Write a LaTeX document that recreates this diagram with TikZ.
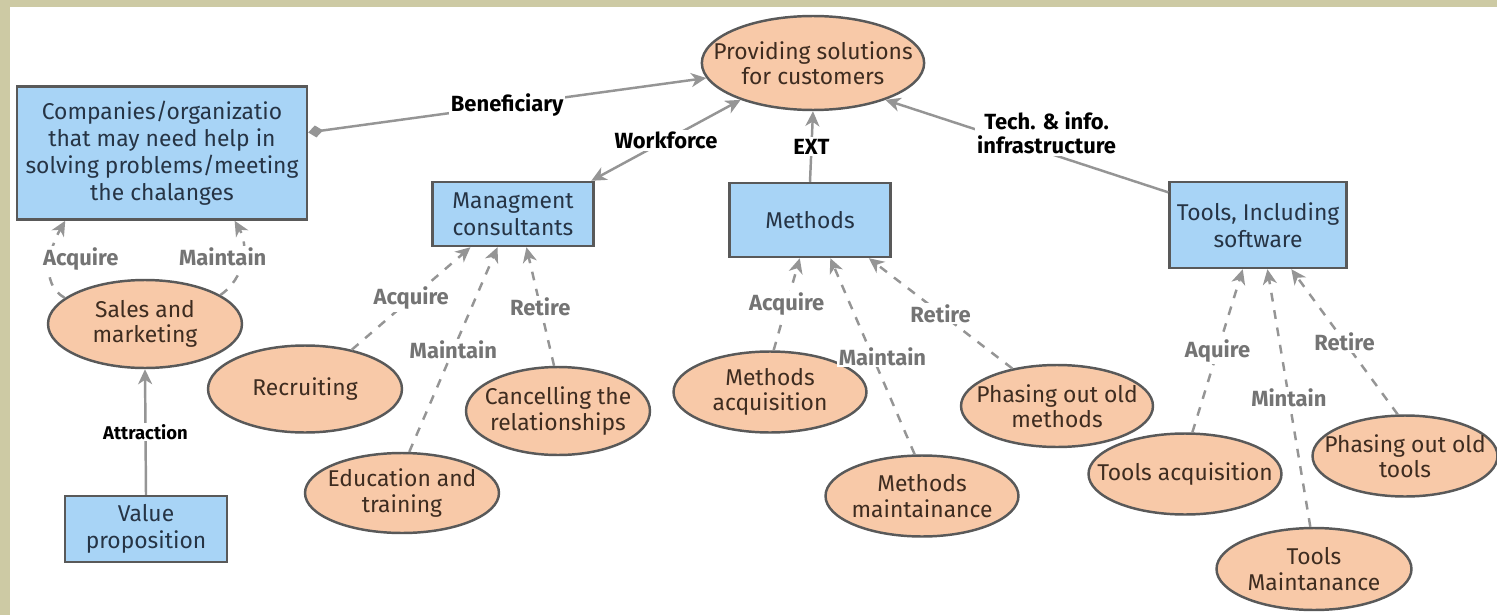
\documentclass[tikz,border=0pt]{standalone}
\usepackage{fontspec}
\setmainfont{Fira Sans}
\usetikzlibrary{shapes.geometric,arrows.meta}
\definecolor{boxblue}{HTML}{A8D4F6}
\definecolor{peach}{HTML}{F8C9A8}
\definecolor{edgegray}{HTML}{959595}
\definecolor{labgray}{HTML}{747474}
\definecolor{framecol}{HTML}{CDCAA4}
\definecolor{boxtext}{HTML}{263445}
\definecolor{ovaltext}{HTML}{3E2C20}

\begin{document}
\begin{tikzpicture}[x=0.02cm,y=-0.02cm,
	entity/.style={draw=black!65,line width=1.4pt,fill=boxblue,text=boxtext,align=center,inner sep=2pt,font=\fontsize{13}{15.4}\selectfont},
	activity/.style={ellipse,draw=black!65,line width=1.4pt,fill=peach,text=ovaltext,align=center,inner xsep=-1.2em,inner ysep=-0.4em,font=\fontsize{13}{14.5}\selectfont},
	rel/.style={draw=edgegray,line width=1.4pt,-{Stealth[length=3mm,width=2.8mm,inset=0.9mm]}},
	life/.style={rel,dash pattern=on 5pt off 5pt},
	tag/.style={fill=white,inner sep=1pt,align=center,font=\bfseries\fontsize{12.5}{14}\selectfont},
	gtag/.style={tag,text=labgray}]
			
			% frame and page
			\fill[white] (0,0) rectangle (1497,615);
			\fill[framecol] (0,0) rectangle (10,615);
			\fill[framecol] (0,0) rectangle (1497,7);
			\useasboundingbox (0,0) rectangle (1497,615);
			
			% boxes
			\node[entity,minimum width=5.8cm,minimum height=2.66cm] (comp) at (162,153) {Companies/organizatio\\that may need help in\\solving problems/meeting\\the chalanges};
			\node[entity,minimum width=3.22cm,minimum height=1.28cm] (mc) at (513,214) {Managment\\consultants};
			\node[entity,minimum width=3.22cm,minimum height=1.48cm] (met) at (810,220) {Methods};
			\node[entity,minimum width=3.54cm,minimum height=1.72cm] (tools) at (1258,225) {Tools, Including\\software};
			\node[entity,minimum width=3.24cm,minimum height=1.32cm] (vp) at (146,529) {Value\\proposition};
			
			% ellipses
			\node[activity,minimum width=4.3cm,minimum height=1.88cm] (sol) at (813,63) {Providing solutions\\for customers};
			\node[activity,minimum width=3.88cm,minimum height=1.76cm] (sm) at (145,324) {Sales and\\marketing};
			\node[activity,minimum width=3.88cm,minimum height=1.74cm] (rec) at (305,389) {Recruiting};
			\node[activity,minimum width=3.88cm,minimum height=1.6cm] (edu) at (402,493) {Education and\\training};
			\node[activity,minimum width=3.68cm,minimum height=1.76cm] (canc) at (558,411) {Cancelling the\\relationships};
			\node[activity,minimum width=3.86cm,minimum height=1.62cm] (macq) at (770,392) {Methods\\acquisition};
			\node[activity,minimum width=3.86cm,minimum height=1.62cm] (mmnt) at (922,496) {Methods\\maintainance};
			\node[activity,minimum width=3.84cm,minimum height=1.64cm] (mold) at (1057,406) {Phasing out old\\methods};
			\node[activity,minimum width=3.86cm,minimum height=1.62cm] (tacq) at (1185,474) {Tools acquisition};
			\node[activity,minimum width=3.9cm,minimum height=1.64cm] (tmnt) at (1314,569) {Tools\\Maintanance};
			\node[activity,minimum width=3.7cm,minimum height=1.62cm] (told) at (1405,456) {Phasing out old\\tools};
			
			% main relations
			\draw[rel,{Diamond[length=3mm,width=2.4mm]}-{Stealth[length=3mm,width=2.8mm,inset=0.9mm]}]
			(comp.8) -- node[tag]{Beneficiary} (sol.188);
			\draw[rel,{Stealth[length=3mm,width=2.8mm,inset=0.9mm]}-{Stealth[length=3mm,width=2.8mm,inset=0.9mm]}]
			(sol.207) -- node[tag]{Workforce} (mc.23);
			\draw[rel]
			(met.north) -- node[tag]{EXT} (sol.south);
			\draw[rel]
			(tools.160) -- node[tag,pos=0.43,yshift=0.4cm]{Tech. \& info.\\infrastructure} (sol.333);
			\draw[rel]
			(vp.north) -- node[tag,font=\bfseries\fontsize{10.5}{12}\selectfont]{Attraction} (sm.south);
			
			% sales and marketing
			\draw[life] (sm.162) to[out=150,in=240] node[gtag,pos=0.55,anchor=west,xshift=-0.2cm]{Acquire} (comp.215);
			\draw[life] (sm.21) to[out=35,in=300] node[gtag,pos=0.55,xshift=-0.4cm]{Maintain} (comp.317);
			
			% consultants
			\draw[life] (rec.40) -- node[gtag]{Acquire} (mc.218);
			\draw[life] (edu.80) -- node[gtag]{Maintain} (mc.245);
			\draw[life] (canc.95) -- node[gtag]{Retire} (mc.292);
			
			% methods
			\draw[life] (macq.85) -- node[gtag]{Acquire} (met.255);
			\draw[life] (mmnt.100) -- node[gtag,xshift=0.2cm]{Maintain} (met.298);
			\draw[life] (mold.140) -- node[gtag]{Retire} (met.327);
			
			% tools
			\draw[life] (tacq.80) -- node[gtag]{Aquire} (tools.251);
			\draw[life] (tmnt.95) -- node[gtag]{Mintain} (tools.282);
			\draw[life] (told.100) -- node[gtag]{Retire} (tools.307);
			
		\end{tikzpicture}
\end{document}
